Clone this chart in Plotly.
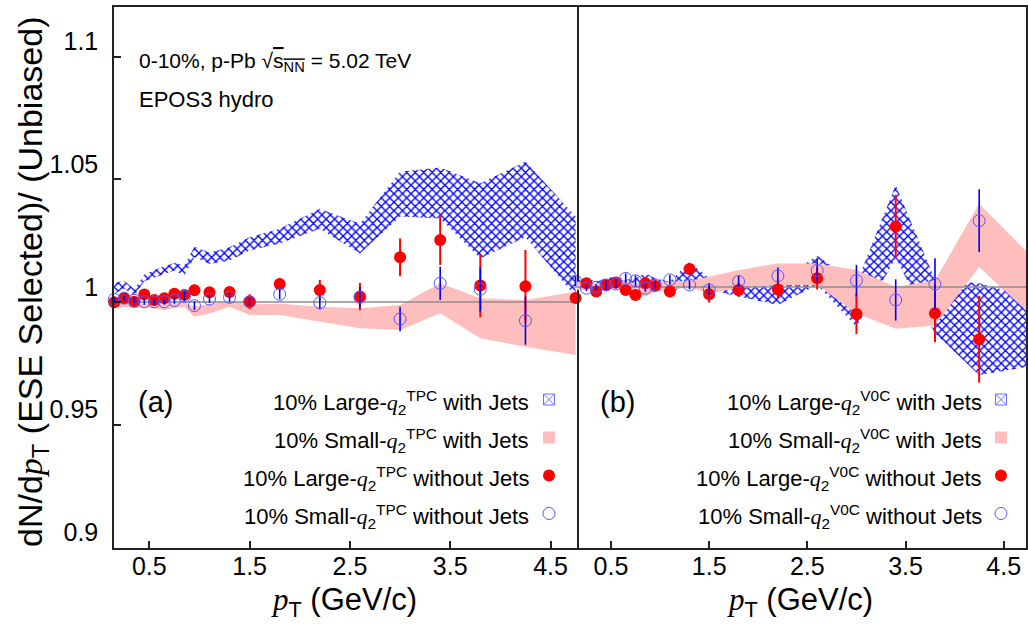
import plotly.graph_objects as go

# ---------------- data ----------------
pt = [0.15, 0.25, 0.35, 0.45, 0.55, 0.65, 0.75, 0.85, 0.95, 1.1,
      1.3, 1.5, 1.8, 2.2, 2.6, 3.0, 3.4, 3.8, 4.25, 4.75]
ref_level = 1.0

# Panel (a): TPC
tpc_large_jets_hi = [1.0078, 1.0087, 1.0052, 1.0112, 1.0130, 1.0146, 1.0160, 1.0150, 1.0225, 1.0202,
                     1.0223, 1.0264, 1.0298, 1.0380, 1.0319, 1.0531, 1.0548, 1.0484, 1.0572, 1.0348]
tpc_large_jets_lo = [1.0033, 1.0055, 1.0025, 1.0085, 1.0098, 1.0114, 1.0128, 1.0108, 1.0183, 1.0155,
                     1.0169, 1.0210, 1.0238, 1.0298, 1.0198, 1.0348, 1.0340, 1.0178, 1.0264, 1.0022]
tpc_small_jets_hi = [1.0001, 0.9997, 0.9995, 0.9994, 0.9994, 0.9991, 0.9995, 0.9997, 0.9981, 0.9993,
                     1.0001, 0.9991, 0.9993, 0.9981, 0.9974, 0.9988, 1.0076, 1.0015, 1.0008, 1.0042]
tpc_small_jets_lo = [0.9981, 0.9979, 0.9979, 0.9976, 0.9974, 0.9966, 0.9976, 0.9979, 0.9940, 0.9953,
                     0.9981, 0.9947, 0.9947, 0.9920, 0.9893, 0.9886, 0.9954, 0.9852, 0.9818, 0.9784]
tpc_large_nojets = [0.9999, 1.0015, 1.0001, 1.0031, 1.0008, 1.0015, 1.0034, 1.0029, 1.0048, 1.0040,
                    1.0041, 1.0001, 1.0073, 1.0049, 1.0022, 1.0182, 1.0253, 1.0067, 1.0064, 1.0016]
tpc_large_nojets_err = [0.0012, 0.0012, 0.0013, 0.0013, 0.0014, 0.0014, 0.0016, 0.0018, 0.0022, 0.0018,
                        0.0020, 0.0031, 0.0025, 0.0041, 0.0056, 0.0077, 0.0102, 0.0129, 0.0148, 0.0020]
tpc_small_nojets = [1.0010, 1.0016, 1.0007, 1.0001, 1.0001, 1.0001, 1.0006, 1.0023, 0.9985, 1.0012,
                    1.0019, 1.0001, 1.0031, 0.9997, 1.0019, 0.9931, 1.0076, 1.0052, 0.9924, 1.0085]
tpc_small_nojets_err = [0.0010, 0.0011, 0.0011, 0.0012, 0.0012, 0.0012, 0.0013, 0.0020, 0.0018, 0.0016,
                        0.0018, 0.0015, 0.0020, 0.0027, 0.0041, 0.0050, 0.0068, 0.0090, 0.0098, 0.0020]

# Panel (b): V0C
v0c_large_jets_hi = [1.0042, 1.0035, 1.0022, 1.0035, 1.0042, 1.0029, 1.0035, 1.0056, 1.0035, 1.0022,
                     1.0103, 1.0035, 1.0029, 1.0022, 1.0127, 1.0015, 1.0416, 1.0029, 1.0015, 0.9961]
v0c_large_jets_lo = [0.9988, 0.9995, 0.9988, 1.0001, 1.0008, 0.9988, 0.9975, 1.0001, 0.9988, 0.9975,
                     1.0015, 0.9988, 0.9961, 0.9926, 1.0008, 0.9838, 1.0117, 0.9811, 0.9641, 0.9675]
v0c_small_jets_hi = [1.0022, 1.0018, 1.0015, 1.0018, 1.0022, 1.0022, 1.0015, 1.0015, 1.0022, 1.0022,
                     1.0025, 1.0042, 1.0069, 1.0096, 1.0096, 1.0069, 1.0001, 1.0026, 1.0339, 1.0137]
v0c_small_jets_lo = [0.9988, 0.9988, 0.9985, 0.9988, 0.9991, 0.9988, 0.9977, 0.9960, 0.9981, 0.9988,
                     0.9999, 0.9974, 0.9995, 1.0008, 1.0008, 0.9892, 0.9830, 0.9843, 1.0081, 0.9895]
v0c_large_nojets = [0.9955, 1.0015, 0.9981, 1.0008, 1.0018, 0.9988, 0.9967, 1.0015, 1.0004, 0.9981,
                    1.0073, 0.9970, 0.9988, 0.9990, 1.0035, 0.9890, 1.0246, 0.9893, 0.9787, 0.9906]
v0c_large_nojets_err = [0.0012, 0.0012, 0.0012, 0.0012, 0.0014, 0.0014, 0.0016, 0.0016, 0.0016, 0.0018,
                        0.0022, 0.0034, 0.0028, 0.0037, 0.0045, 0.0082, 0.0129, 0.0118, 0.0177, 0.0025]
v0c_small_nojets = [1.0030, 0.9995, 0.9999, 1.0008, 1.0012, 1.0035, 1.0025, 0.9995, 1.0008, 1.0029,
                    1.0008, 0.9988, 1.0022, 1.0045, 1.0067, 1.0026, 0.9947, 1.0012, 1.0270, 0.9893]
v0c_small_nojets_err = [0.0010, 0.0012, 0.0012, 0.0018, 0.0018, 0.0020, 0.0022, 0.0015, 0.0015, 0.0020,
                        0.0018, 0.0027, 0.0023, 0.0034, 0.0048, 0.0064, 0.0084, 0.0105, 0.0128, 0.0025]

x_ticks = [0.5, 1.5, 2.5, 3.5, 4.5]
y_ticks = [0.9, 0.95, 1.0, 1.05, 1.1]

# ---------------- layout constants ----------------
W, H = 1028, 626
ML, MR, MT, MB = 114, 2, 7, 78
PW = W - ML - MR
PH = H - MT - MB
split = (577 - ML) / PW
xr_a = [0.148, 4.764]
xr_b = [0.154, 4.727]
yr_a = [0.89976, 1.1202]
yr_b = [0.8936, 1.1141]

FONT = "Liberation Sans"
SERIF = "Liberation Serif"
HATCH = "#0000ff"
PINK = "#ffbebe"
RED = "#ff0000"
BLUE_C = "#5555ff"
BLUE_E = "#0000ff"
FRAME = "#222222"


def px_x(p):
    return (p - ML) / PW


def px_y(p):
    return (H - MB - p) / PH


fig = go.Figure()


def add_panel(xa, ya, xr, hi_l, lo_l, hi_s, lo_s, yl, yl_err, ys, ys_err):
    # large-q2 with jets : hatched band
    fig.add_trace(go.Scatter(
        x=pt + pt[::-1], y=hi_l + lo_l[::-1], xaxis=xa, yaxis=ya,
        mode="lines", line=dict(width=0), fill="toself",
        fillcolor="rgba(255,255,255,0)",
        fillpattern=dict(shape="x", fgcolor=HATCH, bgcolor="rgba(255,255,255,0)",
                         size=6, solidity=0.4),
        showlegend=False, hoverinfo="skip"))
    # small-q2 with jets : pink band
    fig.add_trace(go.Scatter(
        x=pt + pt[::-1], y=hi_s + lo_s[::-1], xaxis=xa, yaxis=ya,
        mode="lines", line=dict(width=0), fill="toself", fillcolor=PINK,
        showlegend=False, hoverinfo="skip"))
    # reference line at unity
    fig.add_trace(go.Scatter(
        x=xr, y=[ref_level, ref_level], xaxis=xa, yaxis=ya, mode="lines",
        line=dict(color="#8c8c8c", width=1.5), showlegend=False, hoverinfo="skip"))
    # large-q2 without jets
    fig.add_trace(go.Scatter(
        x=pt, y=yl, xaxis=xa, yaxis=ya, mode="markers",
        marker=dict(color=RED, size=12, line=dict(width=0)),
        error_y=dict(type="data", array=yl_err, color=RED, thickness=2, width=0),
        cliponaxis=False, showlegend=False))
    # small-q2 without jets
    fig.add_trace(go.Scatter(
        x=pt, y=ys, xaxis=xa, yaxis=ya, mode="markers",
        marker=dict(color=BLUE_C, size=12, symbol="circle-open", line=dict(width=1)),
        error_y=dict(type="data", array=ys_err, color=BLUE_E, thickness=1.6, width=0),
        cliponaxis=False, showlegend=False))


add_panel("x", "y", xr_a, tpc_large_jets_hi, tpc_large_jets_lo, tpc_small_jets_hi, tpc_small_jets_lo,
          tpc_large_nojets, tpc_large_nojets_err, tpc_small_nojets, tpc_small_nojets_err)
add_panel("x2", "y2", xr_b, v0c_large_jets_hi, v0c_large_jets_lo, v0c_small_jets_hi, v0c_small_jets_lo,
          v0c_large_nojets, v0c_large_nojets_err, v0c_small_nojets, v0c_small_nojets_err)

# legend keys (library legends; text is drawn as annotations to the left)
key_markers = [
    dict(symbol="square-x-open", color="#6f6fff", size=11, line=dict(width=1, color="#6f6fff")),
    dict(symbol="square", color=PINK, size=12, line=dict(width=0)),
    dict(symbol="circle", color=RED, size=12, line=dict(width=0)),
    dict(symbol="circle-open", color=BLUE_C, size=12, line=dict(width=1)),
]
for lg, xa, ya in (("legend", "x", "y"), ("legend2", "x2", "y2")):
    for i, mk in enumerate(key_markers):
        fig.add_trace(go.Scatter(x=[None], y=[None], xaxis=xa, yaxis=ya, mode="markers",
                                 marker=mk, name=" ", legend=lg, legendgroup=f"{lg}{i}",
                                 showlegend=True))

axis_common = dict(showline=True, linecolor=FRAME, linewidth=1.5, mirror=True,
                   showgrid=False, zeroline=False, ticks="inside", ticklen=7, tickwidth=1.5,
                   tickcolor=FRAME, automargin=False,
                   tickfont=dict(family=FONT, size=25, color="black"))

legend_common = dict(bgcolor="rgba(0,0,0,0)", borderwidth=0, font=dict(family=FONT, size=20),
                     tracegroupgap=9, xanchor="left", yanchor="top", itemsizing="trace")

fig.update_layout(
    template="none",
    width=W, height=H, margin=dict(l=ML, r=MR, t=MT, b=MB, autoexpand=False),
    paper_bgcolor="white", plot_bgcolor="white",
    font=dict(family=FONT, color="black"),
    xaxis=dict(domain=[0, split], range=xr_a, tickvals=x_ticks, anchor="y",
               ticklabelstandoff=-5, **axis_common),
    yaxis=dict(domain=[0, 1], range=yr_a, tickvals=y_ticks, anchor="x",
               ticklabelstandoff=9, ticklabelshift=-15, **axis_common),
    xaxis2=dict(domain=[split, 1], range=xr_b, tickvals=x_ticks, anchor="y2",
                ticklabelstandoff=-5, **axis_common),
    yaxis2=dict(domain=[0, 1], range=yr_b, anchor="x2", side="right", showticklabels=False,
                showline=True, linecolor=FRAME, linewidth=1.5, mirror=False, automargin=False,
                showgrid=False, zeroline=False, ticks=""),
    legend=dict(x=px_x(529), y=px_y(380), **legend_common),
    legend2=dict(x=px_x(981), y=px_y(380), **legend_common),
)

q_it = f"<span style=\"font-family:'{SERIF}'\"><i>q</i></span>"
p_it = f"<span style=\"font-family:'{SERIF}'\"><i>p</i></span>"

ann = []
ann.append(dict(text=f"dN/d{p_it}<sub>T</sub> (ESE Selected)/ (Unbiased)", textangle=-90,
                x=px_x(32), y=px_y(282), xanchor="center", yanchor="middle",
                font=dict(family=FONT, size=34)))
for cx in (344, 800):
    ann.append(dict(text=f"{p_it}<sub>T</sub> (GeV/c)", x=px_x(cx), y=px_y(602),
                    xanchor="center", yanchor="middle", font=dict(family=FONT, size=31)))
ann.append(dict(text="0-10%, p-Pb √<span style=\"text-decoration:overline\">s<sub>NN</sub></span> = 5.02 TeV",
                x=px_x(137), y=px_y(62), xanchor="left", yanchor="middle",
                font=dict(family=FONT, size=21)))
ann.append(dict(text="EPOS3 hydro", x=px_x(137), y=px_y(100), xanchor="left", yanchor="middle",
                font=dict(family=FONT, size=22)))
ann.append(dict(text="(a)", x=px_x(136), y=px_y(402), xanchor="left", yanchor="middle",
                font=dict(family=FONT, size=29)))
ann.append(dict(text="(b)", x=px_x(598), y=px_y(402), xanchor="left", yanchor="middle",
                font=dict(family=FONT, size=29)))

rows = [402, 440, 478, 516]
for det, xr_px in (("TPC", 531), ("V0C", 984)):
    labels = [f"10% Large-{q_it}<sub>2</sub><sup>{det}</sup> with Jets",
              f"10% Small-{q_it}<sub>2</sub><sup>{det}</sup> with Jets",
              f"10% Large-{q_it}<sub>2</sub><sup>{det}</sup> without Jets",
              f"10% Small-{q_it}<sub>2</sub><sup>{det}</sup> without Jets"]
    for lab, ry in zip(labels, rows):
        ann.append(dict(text=lab, x=px_x(xr_px), y=px_y(ry), xanchor="right", yanchor="middle",
                        font=dict(family=FONT, size=22)))

for a in ann:
    a.update(xref="paper", yref="paper", showarrow=False)
fig.update_layout(annotations=ann)

fig.write_html("out.html", config={"displayModeBar": False},
               post_script="document.body.style.margin='0px';document.body.style.padding='0px';")
